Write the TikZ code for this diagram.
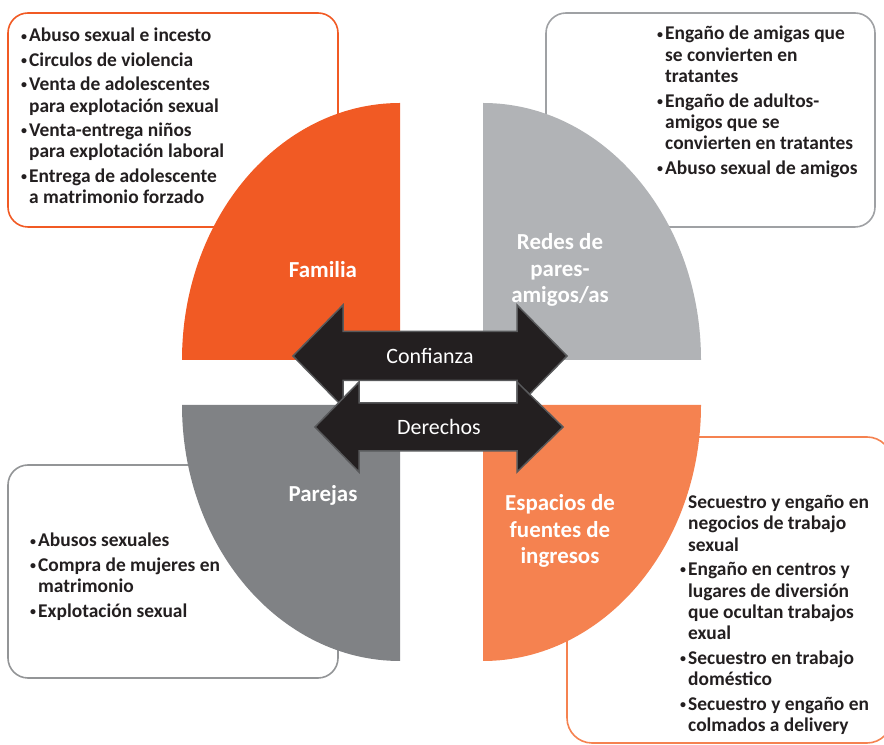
\documentclass[tikz,border=0pt]{standalone}
\usepackage{fontspec}
\setmainfont{Carlito}

\definecolor{familia}{HTML}{F15A24}
\definecolor{redes}{HTML}{B1B3B6}
\definecolor{parejas}{HTML}{808285}
\definecolor{espacios}{HTML}{F58250}
\definecolor{ink}{HTML}{231F20}
\definecolor{arrowline}{HTML}{58595B}
\definecolor{boxgray}{HTML}{9FA1A4}

\newcommand{\bul}{\makebox[8bp][l]{\raisebox{1.8bp}{\fontsize{12}{12}\selectfont\textbullet}}}
\newcommand{\ind}{\hspace*{8bp}}

\begin{document}
\begin{tikzpicture}[x=1bp,y=1bp,
    list box/.style={rounded corners=20bp,line width=1.6bp,fill=white},
    list text/.style={anchor=north west,inner sep=0pt,align=left,text=ink,
                      font=\fontsize{19.5}{21.5}\selectfont\bfseries},
    quad label/.style={text=white,align=center,
                       font=\fontsize{23}{26.5}\selectfont\bfseries},
    link arrow/.style={fill=ink,draw=arrowline,line width=1.5bp},
    link label/.style={text=white,font=\fontsize{22}{26}\selectfont}]
  \useasboundingbox (0,0) rectangle (884,745);

  % boxes behind the circle
  \draw[list box,draw=familia]  (8,518) rectangle (338,732);
  \draw[list box,draw=boxgray]  (546,518) rectangle (875,732);
  \draw[list box,draw=parejas!85] (8,67) rectangle (338,280);
  \draw[list box,draw=espacios,rounded corners=25bp] (567,2) rectangle (892,308);

  % quarters
  \fill[familia]  (400,385) -- (182,385) arc[start angle=180,end angle=90,x radius=218,y radius=257] -- cycle;
  \fill[redes]    (483,385) -- (483,642) arc[start angle=90,end angle=0,x radius=218,y radius=257] -- cycle;
  \fill[parejas]  (400,340) -- (182,340) arc[start angle=180,end angle=270,x radius=218,y radius=256] -- cycle;
  \fill[espacios] (483,340) -- (701,340) arc[start angle=0,end angle=-90,x radius=218,y radius=256] -- cycle;

  \node[list text] (famlist) at (21,717) {\bul Abuso sexual e incesto\\[3bp]
    \bul Circulos de violencia\\[3bp]
    \bul Venta de adolescentes\\
    \ind para explotación sexual\\[3bp]
    \bul Venta-entrega niños\\
    \ind para explotación laboral\\[3bp]
    \bul Entrega de adolescente\\
    \ind a matrimonio forzado};
  \node[list text] (redlist) at (657,719) {\bul Engaño de amigas que\\
    \ind se convierten en\\
    \ind tratantes\\[3bp]
    \bul Engaño de adultos-\\
    \ind amigos que se\\
    \ind convierten en tratantes\\[3bp]
    \bul Abuso sexual de amigos};
  \node[list text] (parlist) at (30,212) {\bul Abusos sexuales\\[3bp]
    \bul Compra de mujeres en\\
    \ind matrimonio\\[3bp]
    \bul Explotación sexual};
  \node[list text] (esplist) at (680,250) {\ind Secuestro y engaño en\\
    \ind negocios de trabajo\\
    \ind sexual\\[3bp]
    \bul Engaño en centros y\\
    \ind lugares de diversión\\
    \ind que ocultan trabajos\\
    \ind exual\\[3bp]
    \bul Secuestro en trabajo\\
    \ind doméstico\\[3bp]
    \bul Secuestro y engaño en\\
    \ind colmados a delivery};

  \node[quad label] (familia)  at (323,475) {Familia};
  \node[quad label] (redes)    at (560,475) {Redes de\\pares-\\amigos/as};
  \node[quad label] (parejas)  at (323,250) {Parejas};
  \node[quad label] (espacios) at (560,214) {Espacios de\\fuentes de\\ingresos};

  % two-way arrows
  \draw[link arrow] (293,389) -- (343,440) -- (343,413.5) -- (517,413.5) -- (517,440)
    -- (567,389) -- (517,338) -- (517,364.5) -- (343,364.5) -- (343,338) -- cycle;
  \draw[link arrow] (315,318) -- (359,363) -- (359,342) -- (517,342) -- (517,363)
    -- (563,318) -- (517,273) -- (517,294) -- (359,294) -- (359,273) -- cycle;
  \node[link label] (confianza) at (430,389) {Confianza};
  \node[link label] (derechos)  at (439,318) {Derechos};
\end{tikzpicture}
\end{document}
